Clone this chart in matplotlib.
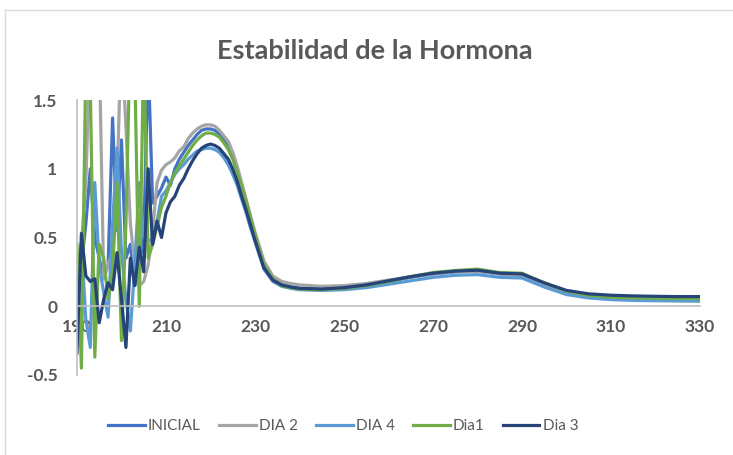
import numpy as np
import matplotlib
matplotlib.use("Agg")
import matplotlib.pyplot as plt
from matplotlib.lines import Line2D

plt.rcParams['font.family'] = ['Lato', 'DejaVu Sans']

# wavelength (nm)
wl = list(range(190, 231)) + [232, 234, 236, 238, 240] + list(range(245, 331, 5))

inicial = [0.0, 0.3, 0.6, 1.0, 0.5, 0.35, 0.2, 0.3, 1.37, 0.55, 1.21, 0.35, 0.45, 0.15, 0.3, 0.5, 1.8, 0.75, 0.8, 0.86, 0.94,
           0.88, 1.0, 1.07, 1.12, 1.17, 1.21, 1.25, 1.28, 1.29, 1.29, 1.28, 1.25, 1.21, 1.16, 1.08, 0.99, 0.88, 0.76, 0.64, 0.52,
           0.31, 0.2, 0.155, 0.14, 0.13,
           0.125, 0.13, 0.15, 0.18, 0.21, 0.235, 0.25, 0.255, 0.235, 0.225, 0.16, 0.1, 0.075, 0.062, 0.056, 0.053, 0.05, 0.05]
dia2 = [0.25, 0.45, 0.9, 1.9, 2.2, 1.9, 0.2, 0.3, 0.4, 0.9, 2.0, 1.3, 0.6, 0.3, 0.15, 0.18, 0.3, 0.55, 0.9, 0.99, 1.03,
        1.05, 1.08, 1.13, 1.16, 1.22, 1.26, 1.29, 1.31, 1.32, 1.32, 1.31, 1.28, 1.24, 1.2, 1.12, 1.02, 0.9, 0.78, 0.66, 0.54,
        0.33, 0.22, 0.18, 0.165, 0.155,
        0.145, 0.15, 0.165, 0.19, 0.215, 0.235, 0.25, 0.255, 0.235, 0.225, 0.16, 0.1, 0.075, 0.065, 0.06, 0.058, 0.056, 0.055]
dia4 = [0.0, 0.45, -0.1, -0.3, 0.9, 0.3, 0.1, -0.08, 0.6, 1.15, 0.4, 0.05, -0.18, 0.3, 0.9, 0.5, 0.48, 0.48, 0.62, 0.8, 0.84,
        0.9, 0.96, 1.0, 1.03, 1.07, 1.1, 1.13, 1.14, 1.15, 1.15, 1.14, 1.12, 1.08, 1.03, 0.96, 0.88, 0.78, 0.68, 0.57, 0.47,
        0.27, 0.18, 0.145, 0.13, 0.12,
        0.115, 0.12, 0.135, 0.16, 0.185, 0.21, 0.225, 0.23, 0.21, 0.205, 0.14, 0.085, 0.06, 0.048, 0.042, 0.04, 0.038, 0.036]
dia1 = [0.45, -0.45, 1.8, 1.6, -0.37, 0.45, 0.35, 0.05, 0.25, 0.9, -0.25, 0.6, 2.0, 1.7, 0.0, 1.9, 0.35, 0.45, 0.58, 0.72, 0.8,
        0.9, 0.97, 1.02, 1.07, 1.12, 1.17, 1.21, 1.24, 1.26, 1.26, 1.25, 1.23, 1.19, 1.14, 1.07, 0.98, 0.87, 0.76, 0.64, 0.52,
        0.3, 0.2, 0.15, 0.135, 0.125,
        0.12, 0.13, 0.15, 0.18, 0.215, 0.245, 0.26, 0.27, 0.245, 0.24, 0.17, 0.11, 0.08, 0.065, 0.06, 0.058, 0.056, 0.055]
dia3 = [-0.34, 0.53, 0.22, 0.18, 0.2, -0.12, 0.05, 0.17, 0.12, 0.39, 0.05, -0.3, 0.35, 0.15, 0.43, 0.25, 1.0, 0.45, 0.62, 0.5, 0.68,
        0.76, 0.8, 0.88, 0.93, 1.0, 1.06, 1.11, 1.15, 1.17, 1.18, 1.17, 1.15, 1.11, 1.07, 1.0, 0.91, 0.8, 0.7, 0.59, 0.48,
        0.28, 0.19, 0.155, 0.14, 0.13,
        0.125, 0.135, 0.155, 0.185, 0.215, 0.24, 0.255, 0.262, 0.24, 0.235, 0.17, 0.115, 0.09, 0.08, 0.075, 0.072, 0.07, 0.07]

series = [("INICIAL", inicial, "#4472C4"),
          ("DIA 2", dia2, "#A5A5A5"),
          ("DIA 4", dia4, "#5B9BD5"),
          ("Dia1", dia1, "#70AD47"),
          ("Dia 3", dia3, "#264478")]

fig = plt.figure(figsize=(7.33, 4.55), dpi=100)
ax = fig.add_axes([0.105, 0.176, 0.850, 0.604])

for name, vals, col in series:
    ax.plot(wl, vals, color=col, lw=2.3, label=name, solid_joinstyle='round')

ax.set_xlim(190, 330)
ax.set_ylim(-0.5, 1.5)
ax.set_xticks(range(190, 331, 20))
ax.set_yticks([-0.5, 0, 0.5, 1, 1.5])
ax.set_yticklabels(["-0.5", "0", "0.5", "1", "1.5"])

for s in ["top", "right"]:
    ax.spines[s].set_visible(False)
ax.spines["bottom"].set_position(("data", 0))
ax.spines["bottom"].set_color("#BFBFBF")
ax.spines["left"].set_color("#BFBFBF")
ax.spines["bottom"].set_linewidth(1.2)
ax.spines["left"].set_linewidth(1.2)
ax.tick_params(length=0, labelsize=12.5, labelcolor="#595959")
ax.tick_params(axis="x", pad=9)
ax.tick_params(axis="y", pad=14)
for lab in ax.get_xticklabels() + ax.get_yticklabels():
    lab.set_fontweight("bold")

fig.text(0.512, 0.888, "Estabilidad de la Hormona", ha="center", va="center",
         fontsize=19.5, fontweight="bold", color="#595959")

leg = fig.legend(loc="center", bbox_to_anchor=(0.468, 0.064), ncol=5, frameon=False,
                 fontsize=11, handlelength=2.4, handletextpad=0.2, columnspacing=1.2)
for t in leg.get_texts():
    t.set_color("#595959")
for h in leg.get_lines():
    h.set_linewidth(2.3)

# chart area border (partly cropped)
fig.add_artist(Line2D([5 / 733, 1], [1 - 10 / 455, 1 - 10 / 455], transform=fig.transFigure, color="#D9D9D9", lw=1))
fig.add_artist(Line2D([5 / 733, 5 / 733], [0, 1 - 10 / 455], transform=fig.transFigure, color="#D9D9D9", lw=1))

fig.savefig("out.png", dpi=100)
